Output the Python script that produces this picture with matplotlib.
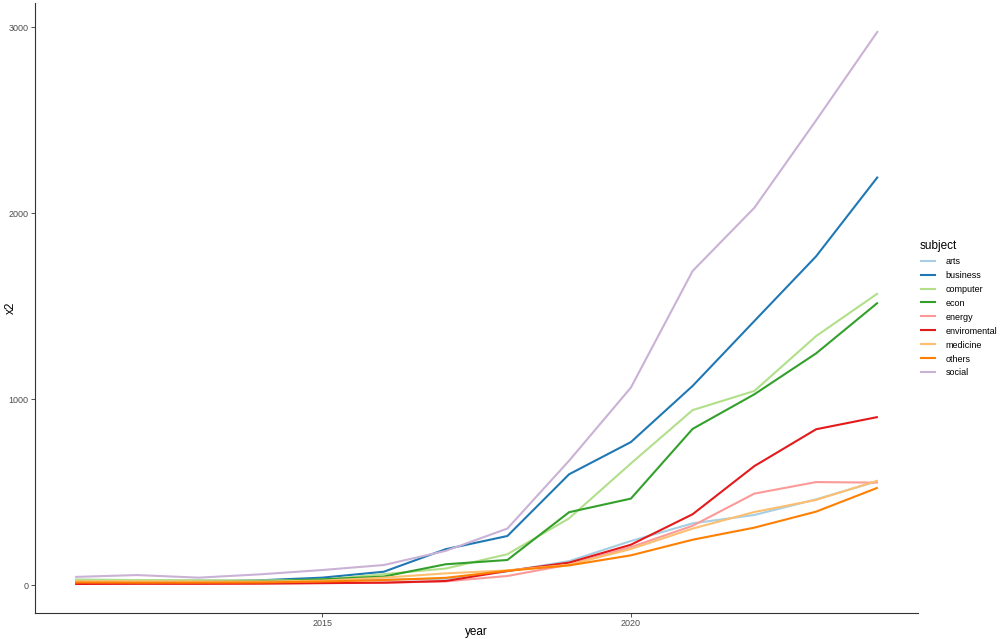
"""
Yearly counts (x2) per subject, 2011-2024, ggplot-like classic look.
Output: out.png (1000x639).
"""
import matplotlib
matplotlib.use("Agg")
import matplotlib.pyplot as plt

plt.rcParams["font.family"] = ["Liberation Sans", "DejaVu Sans"]

YEARS = list(range(2011, 2025))

SUBJECTS = ["arts", "business", "computer", "econ", "energy",
            "enviromental", "medicine", "others", "social"]

arts         = [30, 28, 27, 26, 27, 30, 35, 75, 130, 238, 333, 378, 462, 560]
business     = [18, 18, 18, 27, 41, 73, 194, 265, 597, 770, 1072, 1421, 1769, 2197]
computer     = [30, 28, 27, 26, 30, 60, 90, 167, 360, 655, 942, 1045, 1340, 1570]
econ         = [18, 17, 18, 21, 32, 47, 113, 136, 393, 466, 841, 1027, 1247, 1520]
energy       = [12, 11, 10, 10, 11, 14, 21, 50, 111, 205, 320, 493, 555, 552]
enviromental = [7, 8, 8, 9, 12, 14, 23, 77, 122, 218, 382, 641, 839, 905]
medicine     = [22, 21, 20, 20, 25, 41, 64, 80, 110, 195, 305, 394, 459, 563]
others       = [15, 14, 14, 15, 20, 28, 40, 78, 107, 161, 245, 310, 396, 525]
social       = [45, 55, 41, 59, 82, 109, 185, 305, 670, 1063, 1690, 2030, 2500, 2980]

SERIES = [arts, business, computer, econ, energy,
          enviromental, medicine, others, social]

# RColorBrewer "Paired"
COLORS = ["#A6CEE3", "#1F78B4", "#B2DF8A", "#33A02C", "#FB9A99",
          "#E31A1C", "#FDBF6F", "#FF7F00", "#CAB2D6"]


def main():
    fig = plt.figure(figsize=(10.0, 6.39), dpi=100)
    ax = fig.add_axes([0.035, 0.0407, 0.883, 0.954])

    for name, vals, col in zip(SUBJECTS, SERIES, COLORS):
        ax.plot(YEARS, vals, color=col, linewidth=1.5, label=name,
                solid_capstyle="butt")

    # ggplot-style 5% expansion
    x0, x1 = YEARS[0], YEARS[-1]
    pad = 0.05 * (x1 - x0)
    ax.set_xlim(x0 - pad, x1 + pad)
    ymax = max(max(s) for s in SERIES)
    ax.set_ylim(-0.05 * ymax, ymax * 1.05)

    ax.set_xticks([2015, 2020])
    ax.set_yticks([0, 1000, 2000, 3000])
    ax.tick_params(axis="both", labelsize=6.5, labelcolor="#4d4d4d",
                   color="#333333", length=3, width=0.6, pad=1.5)
    for side in ("top", "right"):
        ax.spines[side].set_visible(False)
    for side in ("left", "bottom"):
        ax.spines[side].set_linewidth(0.8)
        ax.spines[side].set_color("#333333")

    ax.set_xlabel("year", fontsize=8.5)
    ax.set_ylabel("x2", fontsize=8.5)
    ax.xaxis.set_label_coords(0.5, -0.021, transform=ax.transAxes)
    ax.yaxis.set_label_coords(-0.021, 0.5, transform=ax.transAxes)

    leg = fig.legend(loc="center left", bbox_to_anchor=(0.916, 0.517),
                     frameon=False, title="subject", fontsize=6.5,
                     title_fontsize=8.5, handlelength=1.8, labelspacing=0.55,
                     handletextpad=1.1, borderaxespad=0)
    leg._legend_box.align = "left"

    fig.savefig("out.png", dpi=100)
    plt.close(fig)


if __name__ == "__main__":
    main()
